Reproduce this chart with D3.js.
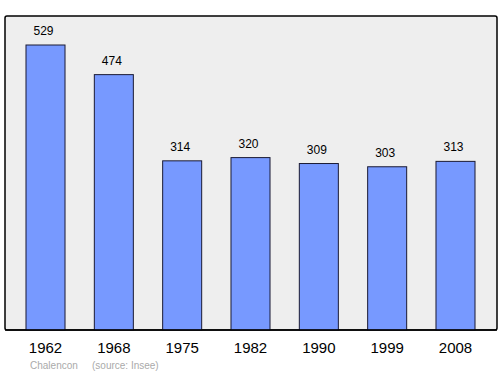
<!DOCTYPE html>
<html>
<head>
<meta charset="utf-8">
<script src="https://cdn.jsdelivr.net/npm/d3@7"></script>
<style>
  body { margin: 0; background: #fff; }
  text { font-family: "Liberation Sans", Arial, sans-serif; }
</style>
</head>
<body>
<div id="chart"></div>
<script>
var years = ['1962', '1968', '1975', '1982', '1990', '1999', '2008'];
var population = [529, 474, 314, 320, 309, 303, 313];
var townName = 'Chalencon';
var sourceText = '(source: Insee)';

var width = 500;
var height = 374;
var frame = { left: 5, top: 16, right: 497, bottom: 330 };

var svg = d3.select('#chart').append('svg')
    .attr('width', width)
    .attr('height', height);

// grey plot background with frame
svg.append('rect')
    .attr('x', frame.left)
    .attr('y', frame.top)
    .attr('width', frame.right - frame.left)
    .attr('height', frame.bottom - frame.top)
    .attr('rx', 2)
    .style('fill', '#eeeeee')
    .style('stroke', '#000')
    .style('stroke-width', 1.5);

var x = d3.scaleBand()
    .domain(years)
    .range([11.33, 489.67])
    .paddingInner(0.429)
    .paddingOuter(0.2146);

var y = d3.scaleLinear()
    .domain([0, 529])
    .range([frame.bottom, 45]);

svg.selectAll('rect.bar')
    .data(population)
    .enter().append('rect')
    .attr('class', 'bar')
    .attr('x', function(d, i) { return x(years[i]); })
    .attr('y', function(d) { return y(d); })
    .attr('width', x.bandwidth())
    .attr('height', function(d) { return y(0) - y(d); })
    .style('fill', '#7799ff')
    .style('stroke', '#1a1a33')
    .style('stroke-width', 1);

// value labels
svg.selectAll('text.value')
    .data(population)
    .enter().append('text')
    .attr('class', 'value')
    .attr('x', function(d, i) { return x(years[i]) + x.bandwidth() / 2 - 2; })
    .attr('y', function(d) { return y(d) - 10; })
    .attr('text-anchor', 'middle')
    .style('font-size', '12px')
    .style('fill', '#000')
    .text(function(d) { return d; });

// redraw frame bottom line over bars
svg.append('line')
    .attr('x1', frame.left)
    .attr('x2', frame.right)
    .attr('y1', frame.bottom)
    .attr('y2', frame.bottom)
    .style('stroke', '#000')
    .style('stroke-width', 1.5);

// year labels
svg.selectAll('text.year')
    .data(years)
    .enter().append('text')
    .attr('class', 'year')
    .attr('x', function(d) { return x(d) + x.bandwidth() / 2; })
    .attr('y', 353)
    .attr('text-anchor', 'middle')
    .style('font-size', '15px')
    .style('fill', '#000')
    .text(function(d) { return d; });

// footer
svg.append('text')
    .attr('x', 30)
    .attr('y', 369)
    .style('font-size', '10px')
    .style('fill', '#aaaaaa')
    .text(townName);

svg.append('text')
    .attr('x', 92)
    .attr('y', 369)
    .style('font-size', '10px')
    .style('fill', '#aaaaaa')
    .text(sourceText);
</script>
</body>
</html>
